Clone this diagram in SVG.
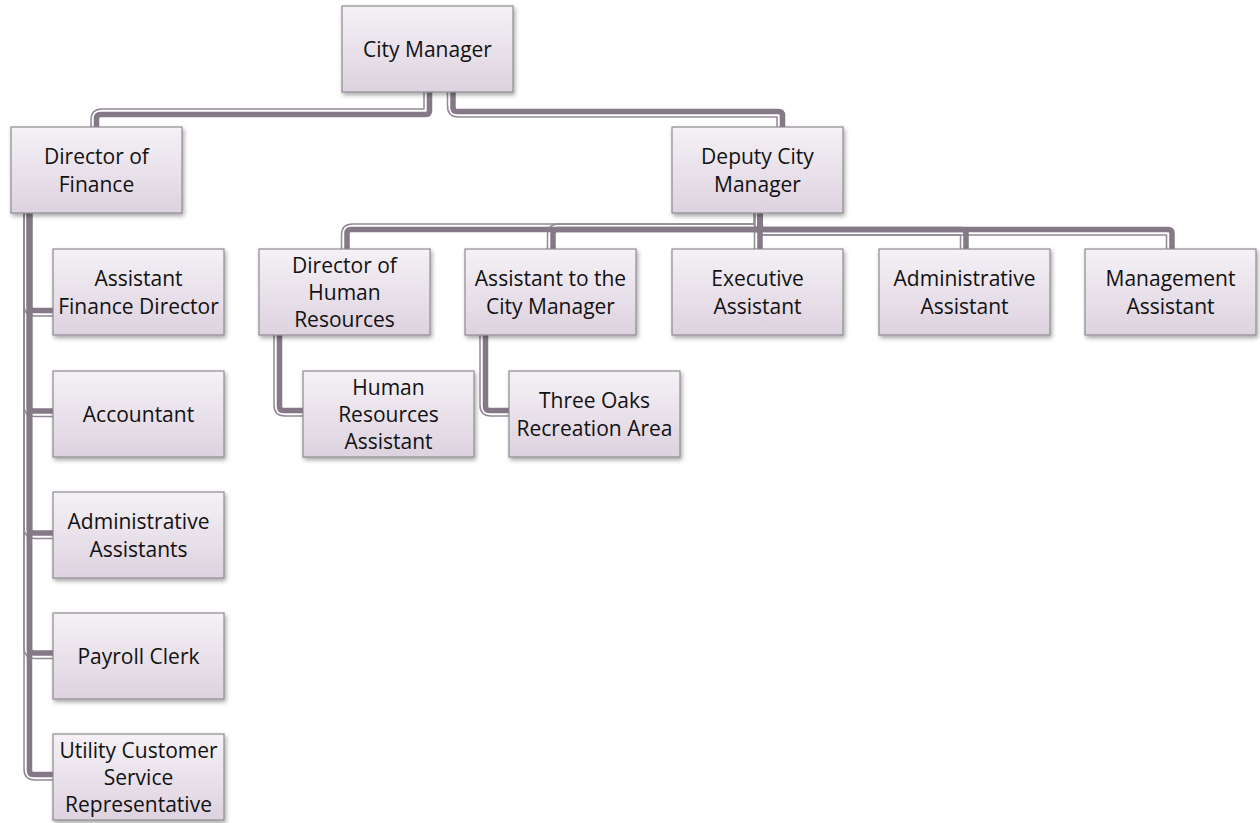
<svg xmlns="http://www.w3.org/2000/svg" width="1260" height="823" viewBox="0 0 1260 823">
<defs>
<linearGradient id="boxfill" x1="0" y1="0" x2="0" y2="1">
<stop offset="0" stop-color="#f5f1f6"/>
<stop offset="1" stop-color="#ddd2df"/>
</linearGradient>
<filter id="shadow" x="-10%" y="-10%" width="125%" height="135%">
<feDropShadow dx="1.5" dy="2.5" stdDeviation="2" flood-color="#000" flood-opacity="0.35"/>
</filter>
</defs>
<style>
.box{fill:url(#boxfill);stroke:#8e8a90;stroke-width:1.2;filter:url(#shadow);}
.lbl{font-family:"Open Sans","Noto Sans","Liberation Sans",sans-serif;font-size:21px;fill:#111;text-anchor:middle;}
.thick{fill:none;stroke:#857988;stroke-width:5.5;stroke-linejoin:round;}
.thin{fill:none;stroke:#938996;stroke-width:1.5;stroke-linejoin:round;}
</style>
<rect width="1260" height="823" fill="#ffffff"/>
<g id="connectors">
<!-- thin lines -->
<path class="thin" d="M424,92 V109 H102 Q91,109 91,120 V128"/>
<path class="thin" d="M447.5,92 V106 Q447.5,117 458.5,117 H777 V128"/>
<path class="thin" d="M24,213 V305 Q24,316 35,316 H54"/>
<path class="thin" d="M24,213 V405 Q24,416.5 35,416.5 H54"/>
<path class="thin" d="M24,213 V527 Q24,538.5 35,538.5 H54"/>
<path class="thin" d="M24,213 V647 Q24,658.5 35,658.5 H54"/>
<path class="thin" d="M24,213 V769 Q24,780 35,780 H54"/>
<path class="thin" d="M754.5,213 V249"/>
<path class="thin" d="M754.5,213 V224 Q754.5,235 765.5,235 H960.5 V249"/>
<path class="thin" d="M754.5,213 V224 Q754.5,235 765.5,235 H1166.5 V249"/>
<path class="thin" d="M754.5,213 V224 H558.5 Q547.5,224 547.5,235 V249"/>
<path class="thin" d="M754.5,213 V224 H352.5 Q341.5,224 341.5,235 V249"/>
<path class="thin" d="M274,335 V405 Q274,416 285,416 H304"/>
<path class="thin" d="M480,335 V405 Q480,416 491,416 H510"/>
<!-- thick lines -->
<path class="thick" d="M429.5,92 V110.5 Q429.5,114.5 425.5,114.5 H100.5 Q96.5,114.5 96.5,118.5 V128"/>
<path class="thick" d="M453,92 V107.5 Q453,111.5 457,111.5 H778.5 Q782.5,111.5 782.5,115.5 V128"/>
<path class="thick" d="M29.5,213 V306.5 Q29.5,310.5 33.5,310.5 H54"/>
<path class="thick" d="M29.5,213 V407 Q29.5,411 33.5,411 H54"/>
<path class="thick" d="M29.5,213 V529 Q29.5,533 33.5,533 H54"/>
<path class="thick" d="M29.5,213 V649 Q29.5,653 33.5,653 H54"/>
<path class="thick" d="M29.5,213 V770.5 Q29.5,774.5 33.5,774.5 H54"/>
<path class="thick" d="M760,213 V249"/>
<path class="thick" d="M760,213 V225.5 Q760,229.5 764,229.5 H962 Q966,229.5 966,233.5 V249"/>
<path class="thick" d="M760,213 V225.5 Q760,229.5 764,229.5 H1168 Q1172,229.5 1172,233.5 V249"/>
<path class="thick" d="M760,213 V225.5 Q760,229.5 756,229.5 H557 Q553,229.5 553,233.5 V249"/>
<path class="thick" d="M760,213 V225.5 Q760,229.5 756,229.5 H351 Q347,229.5 347,233.5 V249"/>
<path class="thick" d="M279.5,335 V406.5 Q279.5,410.5 283.5,410.5 H304"/>
<path class="thick" d="M485.5,335 V406.5 Q485.5,410.5 489.5,410.5 H510"/>
</g>
<g id="city-manager"><rect class="box" x="342" y="6" width="171" height="86"/><text class="lbl" x="427.5" y="56.5">City Manager</text></g>
<g id="director-of-finance"><rect class="box" x="11" y="127" width="171" height="86"/><text class="lbl" x="96.5" y="163.5">Director of</text><text class="lbl" x="96.5" y="191.5">Finance</text></g>
<g id="deputy-city-manager"><rect class="box" x="672" y="127" width="171" height="86"/><text class="lbl" x="757.5" y="163.5">Deputy City</text><text class="lbl" x="757.5" y="191.5">Manager</text></g>
<g id="director-hr"><rect class="box" x="259" y="249" width="171" height="86"/><text class="lbl" x="344.5" y="272.5">Director of</text><text class="lbl" x="344.5" y="299.5">Human</text><text class="lbl" x="344.5" y="326.5">Resources</text></g>
<g id="assistant-to-cm"><rect class="box" x="465" y="249" width="171" height="86"/><text class="lbl" x="550.5" y="285.5">Assistant to the</text><text class="lbl" x="550.5" y="313.5">City Manager</text></g>
<g id="executive-assistant"><rect class="box" x="672" y="249" width="171" height="86"/><text class="lbl" x="757.5" y="285.5">Executive</text><text class="lbl" x="757.5" y="313.5">Assistant</text></g>
<g id="administrative-assistant"><rect class="box" x="879" y="249" width="171" height="86"/><text class="lbl" x="964.5" y="285.5">Administrative</text><text class="lbl" x="964.5" y="313.5">Assistant</text></g>
<g id="management-assistant"><rect class="box" x="1085" y="249" width="171" height="86"/><text class="lbl" x="1170.5" y="285.5">Management</text><text class="lbl" x="1170.5" y="313.5">Assistant</text></g>
<g id="hr-assistant"><rect class="box" x="303" y="371" width="171" height="86"/><text class="lbl" x="388.5" y="394.5">Human</text><text class="lbl" x="388.5" y="421.5">Resources</text><text class="lbl" x="388.5" y="448.5">Assistant</text></g>
<g id="three-oaks"><rect class="box" x="509" y="371" width="171" height="86"/><text class="lbl" x="594.5" y="407.5">Three Oaks</text><text class="lbl" x="594.5" y="435.5">Recreation Area</text></g>
<g id="assistant-finance-director"><rect class="box" x="53" y="249" width="171" height="86"/><text class="lbl" x="138.5" y="285.5">Assistant</text><text class="lbl" x="138.5" y="313.5">Finance Director</text></g>
<g id="accountant"><rect class="box" x="53" y="371" width="171" height="86"/><text class="lbl" x="138.5" y="421.5">Accountant</text></g>
<g id="administrative-assistants"><rect class="box" x="53" y="492" width="171" height="86"/><text class="lbl" x="138.5" y="528.5">Administrative</text><text class="lbl" x="138.5" y="556.5">Assistants</text></g>
<g id="payroll-clerk"><rect class="box" x="53" y="613" width="171" height="86"/><text class="lbl" x="138.5" y="663.5">Payroll Clerk</text></g>
<g id="utility-csr"><rect class="box" x="53" y="734" width="171" height="86"/><text class="lbl" x="138.5" y="757.5">Utility Customer</text><text class="lbl" x="138.5" y="784.5">Service</text><text class="lbl" x="138.5" y="811.5">Representative</text></g>
</svg>
